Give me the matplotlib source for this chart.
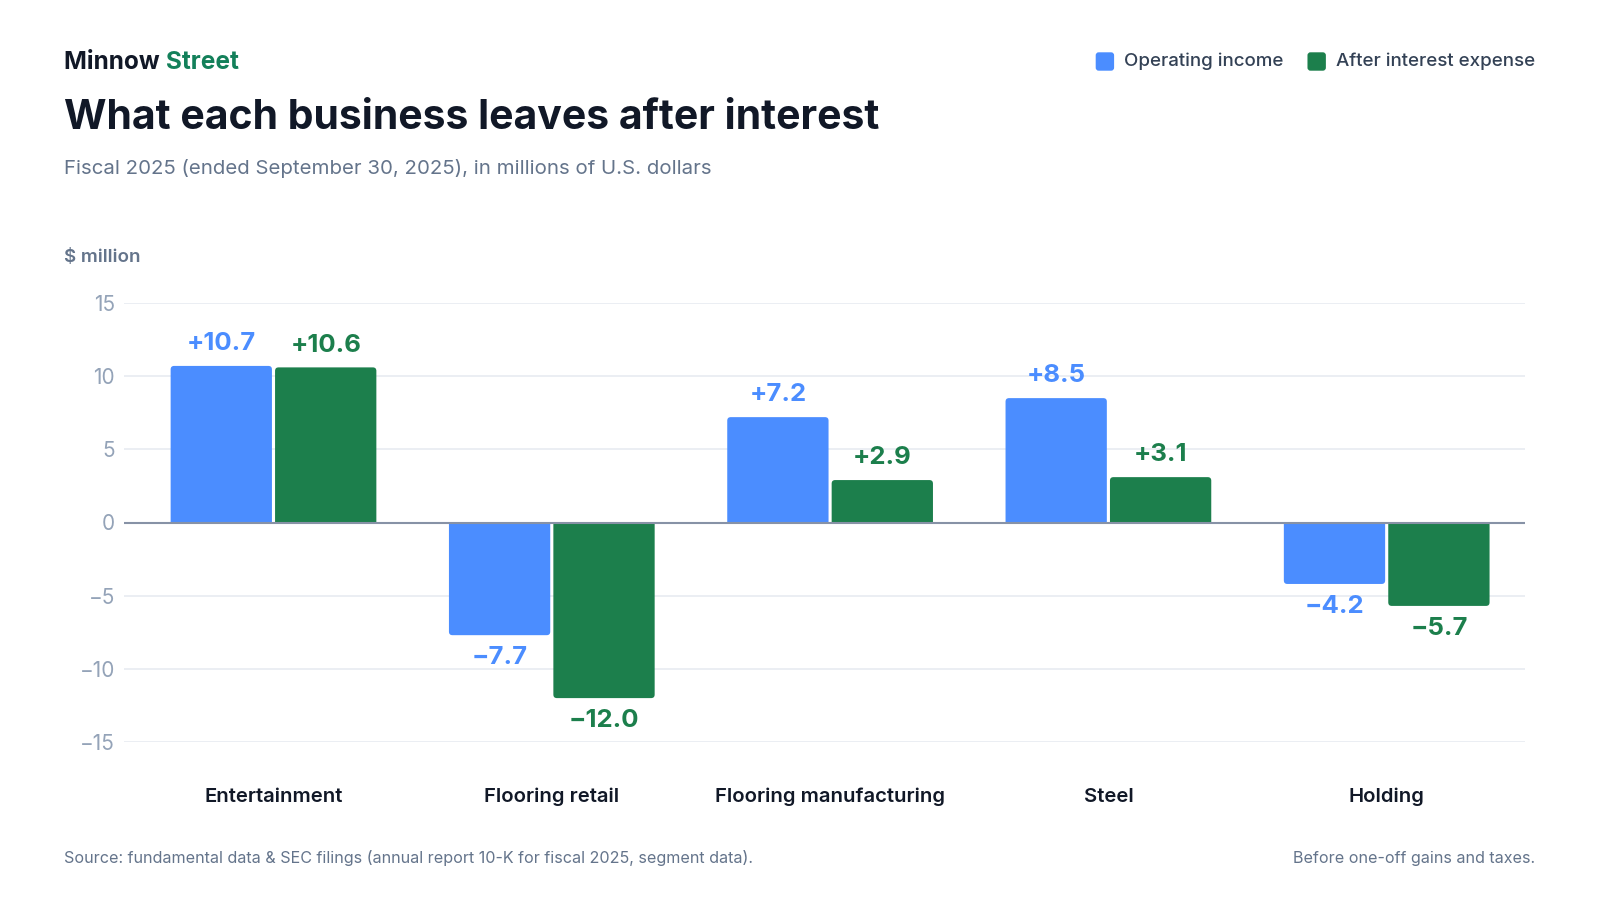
import matplotlib
matplotlib.use("Agg")
import matplotlib.pyplot as plt
from matplotlib.patches import FancyBboxPatch, PathPatch
from matplotlib.path import Path
import matplotlib.transforms as mtrans
import numpy as np

plt.rcParams['font.family'] = ['Inter', 'DejaVu Sans']

categories = ["Entertainment", "Flooring retail", "Flooring manufacturing", "Steel", "Holding"]
operating_income = [10.7, -7.7, 7.2, 8.5, -4.2]
after_interest = [10.6, -12.0, 2.9, 3.1, -5.7]
yticks = [-15, -10, -5, 0, 5, 10, 15]
series_names = ["Operating income", "After interest expense"]

BLUE = "#4b8dff"
GREEN = "#1c7f4c"
DARK = "#111827"
SLATE = "#64748b"
TICK = "#94a3b8"

W, H = 1600, 900
fig = plt.figure(figsize=(16, 9), dpi=100)
fig.patch.set_facecolor("white")

def fx(px):
    return px / W

def fy(py):
    return 1 - py / H

# axes: x from 124 to 1525 px; y from 303 (15) to 742 (-15)
AX_L, AX_R, AX_T, AX_B = 124, 1525, 303, 742
ax = fig.add_axes([fx(AX_L), fy(AX_B), fx(AX_R) - fx(AX_L), fy(AX_T) - fy(AX_B)])
x = np.arange(len(categories))
ppu_x = (1386.7 - 273.5) / 4
ppu_y = (AX_B - AX_T) / 30.0
ax.set_xlim(-(273.5 - AX_L) / ppu_x, 4 + (AX_R - 1386.7) / ppu_x)
ax.set_ylim(-15, 15)

bw = 0.364
off = 0.1876
r_px = 3.5
rx = r_px / ppu_x
ry = r_px / ppu_y

def draw_bar(xc, v, col):
    x0, x1 = xc - bw / 2, xc + bw / 2
    s = 1 if v >= 0 else -1
    verts = [(x0, 0), (x0, v - s * ry), (x0, v), (x0 + rx, v), (x1 - rx, v),
             (x1, v), (x1, v - s * ry), (x1, 0), (x0, 0)]
    codes = [Path.MOVETO, Path.LINETO, Path.CURVE3, Path.CURVE3, Path.LINETO,
             Path.CURVE3, Path.CURVE3, Path.LINETO, Path.CLOSEPOLY]
    ax.add_patch(PathPatch(Path(verts, codes), facecolor=col, edgecolor="none", zorder=3))

for vals, col, sign in [(operating_income, BLUE, -1), (after_interest, GREEN, 1)]:
    for xi, v in zip(x, vals):
        cx = xi + sign * off
        draw_bar(cx, v, col)
        txt = ("+%.1f" % v) if v >= 0 else ("\u2212%.1f" % abs(v))
        ax.annotate(txt, (cx, v), xytext=(0, 16 if v >= 0 else -16),
                    textcoords="offset points", ha="center", va="center",
                    fontsize=18.5, fontweight="bold", color=col, zorder=4)

ax.set_yticks(yticks)
ax.set_yticklabels([("\u2212%d" % abs(t)) if t < 0 else str(t) for t in yticks])
ax.tick_params(axis="y", length=0, labelsize=15, labelcolor=TICK, pad=6.5)
ax.set_xticks([])
for s in ax.spines.values():
    s.set_visible(False)
ax.grid(axis="y", color="#e9edf2", linewidth=1.3, zorder=0)
ax.set_axisbelow(True)
ax.axhline(0, color="#8792a6", linewidth=1.5, zorder=5)

# category labels
blend = mtrans.blended_transform_factory(ax.transData, fig.transFigure)
for xi, c in zip(x, categories):
    ax.text(xi, fy(797), c, transform=blend, ha="center", va="center",
            fontsize=14.6, fontweight="semibold", color=DARK, clip_on=False)

LEFT = 64.3
RIGHT = 1535
# header
t1 = fig.text(fx(LEFT), fy(62.5), "Minnow ", fontsize=17.6, fontweight="bold", color=DARK, va="center", ha="left")
fig.canvas.draw()
bb = t1.get_window_extent(fig.canvas.get_renderer())
fig.text(bb.x1 / W, fy(62.5), "Street", fontsize=17.6, fontweight="bold", color="#13805a", va="center", ha="left")

fig.text(fx(LEFT), fy(118.5), "What each business leaves after interest", fontsize=29.5, fontweight="bold",
         color=DARK, va="center", ha="left")
fig.text(fx(LEFT), fy(168.5), "Fiscal 2025 (ended September 30, 2025), in millions of U.S. dollars",
         fontsize=14.7, color=SLATE, va="center", ha="left")
fig.text(fx(LEFT), fy(257), "$ million", fontsize=13.5, fontweight="semibold", color=SLATE, va="center", ha="left")

# footer
fig.text(fx(LEFT), fy(858), "Source: fundamental data & SEC filings (annual report 10-K for fiscal 2025, segment data).",
         fontsize=11.6, color=SLATE, va="center", ha="left")
fig.text(fx(RIGHT), fy(858), "Before one-off gains and taxes.", fontsize=11.6, color=SLATE, va="center", ha="right")

# legend (right aligned)
xr = RIGHT
sq = 18.4
LY = 61.5
for name, col in reversed(list(zip(series_names, [BLUE, GREEN]))):
    t = fig.text(fx(xr), fy(LY), name, fontsize=13.5, fontweight="medium", color="#334155", va="center", ha="right")
    fig.canvas.draw()
    bb = t.get_window_extent(fig.canvas.get_renderer())
    sx = bb.x0 - 10 - sq
    p = FancyBboxPatch((sx, (H - LY) - sq / 2), sq, sq,
                       boxstyle="round,pad=0,rounding_size=3", transform=None,
                       facecolor=col, edgecolor="none")
    fig.patches.append(p)
    xr = sx - 24

fig.savefig("out.png", dpi=100, facecolor="white")
